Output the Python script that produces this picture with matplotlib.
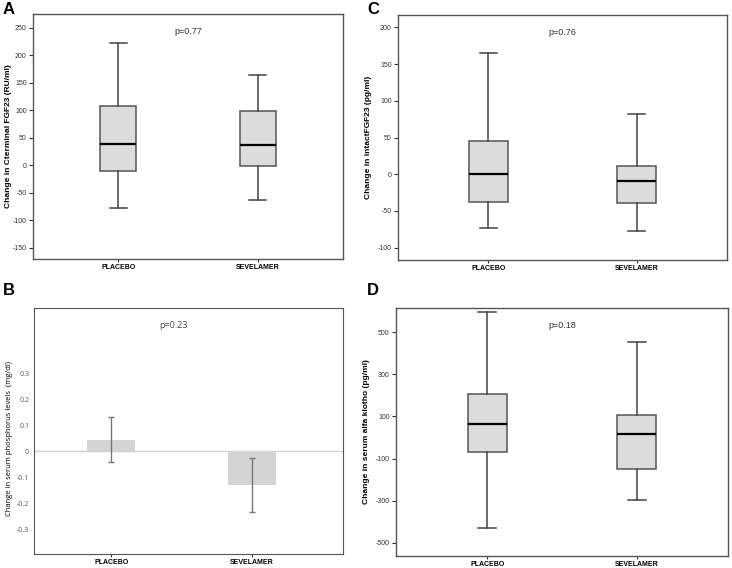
import matplotlib
matplotlib.use("Agg")
import matplotlib.pyplot as plt

groups = ["PLACEBO", "SEVELAMER"]

# panel A - C-terminal FGF23 (RU/ml)
a_whislo = [-77, -62]
a_q1 = [-10, -1]
a_med = [38, 37]
a_q3 = [107, 99]
a_whishi = [222, 165]

# panel C - intact FGF23 (pg/ml)
c_whislo = [-73, -78]
c_q1 = [-38, -39]
c_med = [0, -9]
c_q3 = [45, 11]
c_whishi = [165, 82]

# panel D - alfa klotho (pg/ml)
d_whislo = [-427, -296]
d_q1 = [-67, -148]
d_med = [65, 18]
d_q3 = [205, 108]
d_whishi = [593, 451]

# panel B - phosphorus (mg/dl)
b_mean = [0.043, -0.13]
b_err_hi = [0.13, -0.028]
b_err_lo = [-0.043, -0.235]

W, H = 732, 568
fig = plt.figure(figsize=(W / 100, H / 100), dpi=100)
ARIAL = "Liberation Sans"


def px_axes(x0, y0, x1, y1):
    return fig.add_axes([x0 / W, 1 - y1 / H, (x1 - x0) / W, (y1 - y0) / H])


def style(ax, edge="#555555"):
    for s in ax.spines.values():
        s.set_color(edge)
        s.set_linewidth(1.0)
    ax.tick_params(axis="y", direction="out", length=3, width=0.8, color="#333333", pad=1.5)
    ax.tick_params(axis="x", direction="out", length=2.5, width=0.8, color="#333333", pad=1)


def boxpanel(ax, lo, q1, med, q3, hi, ticks, ylim, ylabel, ptext, labx):
    stats = []
    for i in range(len(groups)):
        stats.append(dict(whislo=lo[i], q1=q1[i], med=med[i], q3=q3[i], whishi=hi[i], fliers=[]))
    ax.bxp(stats, positions=[1, 2], widths=0.26, patch_artist=True, showfliers=False,
           boxprops=dict(facecolor="#dcdcdc", edgecolor="#555555", linewidth=1.1),
           medianprops=dict(color="black", linewidth=1.6),
           whiskerprops=dict(color="#444444", linewidth=1.1),
           capprops=dict(color="#444444", linewidth=1.1), capwidths=0.12)
    ax.set_xlim(0.39, 2.61)
    ax.set_ylim(*ylim)
    ax.set_yticks(ticks)
    ax.set_yticklabels([str(t) for t in ticks], fontsize=5, color="#333333", family=ARIAL)
    ax.set_xticks([1, 2])
    ax.set_xticklabels(groups, fontsize=5, fontweight="bold", family=ARIAL)
    ax.set_ylabel(ylabel, fontsize=6, fontweight="bold", family=ARIAL)
    ax.yaxis.set_label_coords(labx, 0.5)
    ax.text(0.5, 0.93, ptext, transform=ax.transAxes, ha="center", va="center", fontsize=6.5,
            color="#333333", family=ARIAL)
    style(ax)


axA = px_axes(33, 14, 343, 259)
boxpanel(axA, a_whislo, a_q1, a_med, a_q3, a_whishi, list(range(250, -151, -50)),
         (-170, 275), "Change in Cterminal FGF23 (RU/ml)", "p=0.77", -0.068)

axC = px_axes(398, 15, 727, 260)
boxpanel(axC, c_whislo, c_q1, c_med, c_q3, c_whishi, list(range(200, -101, -50)),
         (-117, 217), "Change in intactFGF23 (pg/ml)", "p=0.76", -0.079)

axD = px_axes(396, 308, 728, 556)
boxpanel(axD, d_whislo, d_q1, d_med, d_q3, d_whishi, list(range(500, -501, -200)),
         (-562, 614), "Change in serum alfa klotho (pg/ml)", "p=0.18", -0.078)

# panel B bar chart with error bars
axB = px_axes(34, 308, 343, 554)
x = [1, 2]
axB.axhline(0, color="#d0d0d0", linewidth=1.0, zorder=1)
axB.bar(x, b_mean, width=0.34, color="#d4d4d4", zorder=2)
yerr = [[m - l for m, l in zip(b_mean, b_err_lo)], [h - m for m, h in zip(b_mean, b_err_hi)]]
axB.errorbar(x, b_mean, yerr=yerr, fmt="none", ecolor="#777777", elinewidth=1.0, capsize=2, zorder=3)
axB.set_xlim(0.45, 2.65)
axB.set_ylim(-0.396, 0.55)
bt = [0.3, 0.2, 0.1, 0, -0.1, -0.2, -0.3]
axB.set_yticks(bt)
axB.set_yticklabels([("%g" % t) for t in bt], fontsize=5, color="#555555", family="Open Sans")
axB.set_xticks(x)
axB.set_xticklabels(groups, fontsize=5, fontweight="bold", family=ARIAL)
axB.set_ylabel("Change in serum phosphorus levels  (mg/dl)", fontsize=5.5, family="Open Sans")
axB.yaxis.set_label_coords(-0.068, 0.47)
axB.text(0.45, 0.93, "p=0.23", transform=axB.transAxes, ha="center", va="center", fontsize=6.5,
         color="#444444", family="Open Sans")
for s in axB.spines.values():
    s.set_color("#555555")
axB.tick_params(axis="x", direction="out", length=2.5, width=0.8, color="#333333", pad=1)
axB.tick_params(axis="y", length=0, pad=3.5)

for lab, xx, yy in [("A", 3, 2), ("C", 367, 2), ("B", 3, 283), ("D", 367, 283)]:
    fig.text(xx / W, 1 - yy / H, lab, fontsize=12, fontweight="bold", ha="left", va="top", family=ARIAL)

fig.savefig("out.png", dpi=100)
